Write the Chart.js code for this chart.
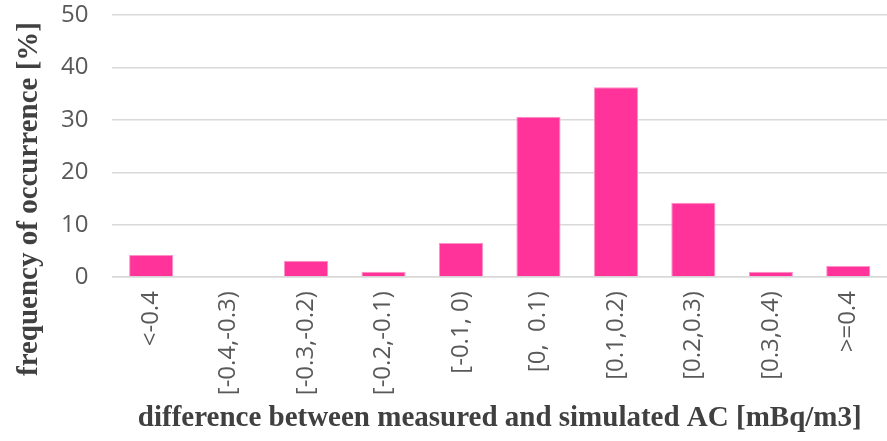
<!DOCTYPE html>
<html lang="en">
<head>
  <meta charset="UTF-8" />
  <title>Difference histogram</title>
  <script src="https://cdn.jsdelivr.net/npm/chart.js"></script>
  <style>
    html, body {
      margin: 0;
      padding: 0;
      background: #fff;
    }
    #wrap {
      width: 887px;
      height: 441px;
    }
  </style>
</head>
<body>
  <div id="wrap"><canvas id="histChart"></canvas></div>

  <script>
    // categories (bins) and frequency of occurrence in %
    const bins = ['<-0.4', '[-0.4,-0.3)', '[-0.3,-0.2)', '[-0.2,-0.1)', '[-0.1, 0)',
                  '[0,  0.1)', '[0.1,0.2)', '[0.2,0.3)', '[0.3,0.4)', '>=0.4'];
    const freq = [4.2, 0, 3.1, 1.0, 6.5, 30.6, 36.2, 14.2, 1.0, 2.1];
    const yTicks = [0, 10, 20, 30, 40, 50];
    const yTitle = 'frequency of occurrence [%]';

    const tickColor = '#595959';
    const titleColor = '#404040';
    const titleFont = 'bold 29px "Liberation Serif"';

    // y title sits lower than the plot centre in the original, so draw it by hand
    const yTitlePlugin = {
      id: 'yTitle',
      afterDraw(chart) {
        const ctx = chart.ctx;
        ctx.save();
        ctx.translate(30, 199);
        ctx.rotate(-Math.PI / 2);
        ctx.font = titleFont;
        ctx.fillStyle = titleColor;
        ctx.textAlign = 'center';
        ctx.textBaseline = 'middle';
        ctx.fillText(yTitle, 0, 0);
        ctx.restore();
      }
    };

    new Chart(document.getElementById('histChart').getContext('2d'), {
      type: 'bar',
      data: {
        labels: bins,
        datasets: [{
          data: freq,
          backgroundColor: '#ff3399',
          borderColor: '#ff8fc7',
          borderWidth: 1,
          barPercentage: 0.57,
          categoryPercentage: 1
        }]
      },
      plugins: [yTitlePlugin],
      options: {
        responsive: true,
        maintainAspectRatio: false,
        animation: false,
        layout: { padding: { top: 0, right: 0, left: 37, bottom: 5 } },
        plugins: {
          legend: { display: false },
          tooltip: { enabled: false }
        },
        scales: {
          x: {
            grid: { display: false },
            border: { color: '#d9d9d9', width: 1.5 },
            ticks: {
              color: tickColor,
              font: { family: 'Open Sans', size: 24 },
              minRotation: 90,
              maxRotation: 90,
              padding: 6
            },
            title: {
              display: true,
              text: 'difference between measured and simulated AC [mBq/m3]',
              color: titleColor,
              font: { family: 'Liberation Serif', size: 29, weight: 'bold' },
              padding: { top: 0, bottom: 0 }
            }
          },
          y: {
            min: 0,
            max: 50,
            afterBuildTicks: axis => { axis.ticks = yTicks.map(v => ({ value: v })); },
            afterFit: axis => { axis.paddingTop = 15; },
            grid: { color: '#d9d9d9', lineWidth: 1.5, drawTicks: false },
            border: { display: false },
            ticks: {
              color: tickColor,
              font: { family: 'Open Sans', size: 24 },
              padding: 24
            }
          }
        }
      }
    });
  </script>
</body>
</html>
